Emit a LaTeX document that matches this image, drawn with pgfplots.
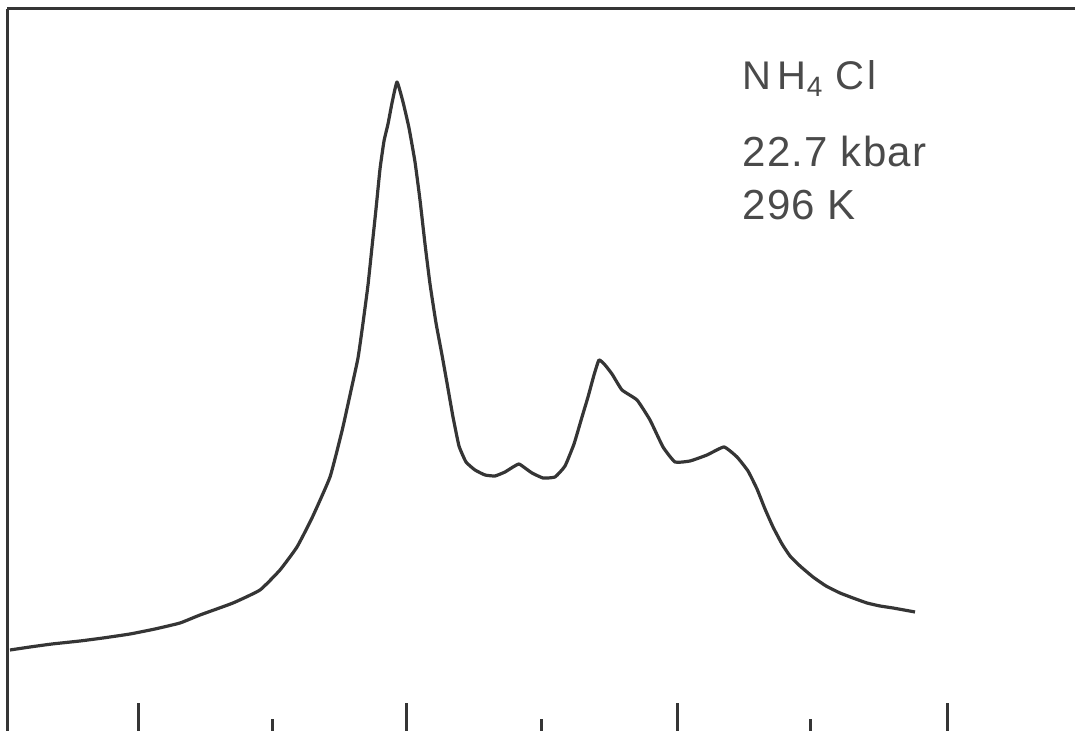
\documentclass[border=0pt]{standalone}
\usepackage{pgfplots}
\pgfplotsset{compat=1.18}
\usepackage{fontspec}
\setmainfont{Liberation Sans}
\definecolor{ink}{HTML}{353535}
\definecolor{txt}{HTML}{4A4A4A}
\begin{document}
\begin{tikzpicture}
\path[use as bounding box] (0,0) rectangle (537.5pt,365.5pt);
% frame (top and left)
\begin{axis}[
  scale only axis, width=534pt, height=361pt,
  at={(3.5pt,0pt)}, anchor=south west,
  xmin=7, xmax=1075, ymin=0, ymax=722,
  axis x line=top, axis y line=left,
  axis line style={-, line width=1.5pt, color=ink},
  xtick=\empty, ytick=\empty,
  clip=false,
]
\addplot[line width=1.6pt, color=ink, line join=round, smooth, tension=0.25] coordinates {
(10,81) (30,84) (52,87) (80,90) (103,93) (130,97) (155,102) (180,108)
(200,116) (233,128) (260,141) (280,161) (297,184) (312,213) (330,254)
(342,300) (350,336) (358,373) (363,408) (368,446) (372,484) (376,522)
(380,562) (384,590) (388,607) (392,628) (397,649) (403,629) (409,603)
(415,569) (420,531) (425,487) (430,447) (436,408) (442,376) (447,348)
(453,314) (459,285) (466,269) (475,261) (485,256) (495,255) (505,259)
(513,264) (519,267) (525,263) (532,258) (543,253) (555,254) (565,265)
(574,287) (582,314) (588,334) (594,356) (599,371) (605,366) (612,357)
(622,341) (637,331) (650,311) (663,284) (675,269) (690,270) (707,276)
(724,284) (737,274) (748,260) (757,242) (765,222) (773,204) (782,187)
(790,175) (800,165) (813,154) (826,145) (840,138) (853,133) (867,128)
(880,125) (893,123) (915,119)
};
\node[anchor=base west, text=txt, font=\fontsize{20}{24}\selectfont\addfontfeature{LetterSpace=6}, inner sep=0pt]
  at (axis cs:742,641) {N\,H\raisebox{-0.3ex}{\fontsize{14}{14}\selectfont 4}\ Cl};
\node[anchor=base west, text=txt, font=\fontsize{21}{24}\selectfont\addfontfeature{LetterSpace=3}, inner sep=0pt]
  at (axis cs:742,564) {22.7 kbar};
\node[anchor=base west, text=txt, font=\fontsize{21}{24}\selectfont\addfontfeature{LetterSpace=3}, inner sep=0pt]
  at (axis cs:742,511) {296 K};
\end{axis}
% bottom ticks
\begin{axis}[
  scale only axis, width=534pt, height=361pt,
  at={(3.5pt,0pt)}, anchor=south west,
  xmin=7, xmax=1075, ymin=0, ymax=722,
  axis x line=bottom, axis y line=none,
  x axis line style={draw=none},
  xtick={138,406,677,947}, minor xtick={272,541,810},
  xticklabels={},
  xtick align=inside,
  major tick length=14pt, minor tick length=6pt,
  every tick/.style={line width=1.5pt, color=ink},
  minor tick style={line width=1.5pt, color=ink},
  major tick style={line width=1.5pt, color=ink},
]
\end{axis}
\end{tikzpicture}
\end{document}
